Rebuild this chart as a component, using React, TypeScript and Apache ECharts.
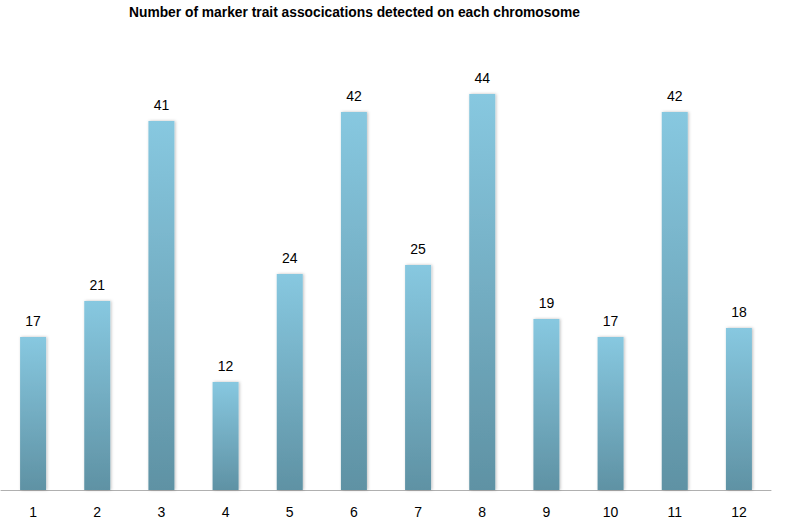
import React, { useEffect, useRef } from "react";
import * as echarts from "echarts";

const chromosomes = ["1", "2", "3", "4", "5", "6", "7", "8", "9", "10", "11", "12"];
const associations = [17, 21, 41, 12, 24, 42, 25, 44, 19, 17, 42, 18];
const chartTitle = "Number of marker trait assocications detected on each chromosome";

export default function App() {
  const ref = useRef<HTMLDivElement>(null);
  useEffect(() => {
    if (!ref.current) return;
    const chart = echarts.init(ref.current, null, { renderer: "svg" });
    chart.setOption({
      animation: false,
      title: {
        text: chartTitle,
        left: 124,
        top: 0,
        textStyle: {
          fontFamily: "Liberation Sans",
          fontWeight: "bold",
          fontSize: 13.8,
          color: "#000",
        },
      },
      grid: { left: 1, right: 22, top: 40, bottom: 39 },
      xAxis: {
        type: "category",
        data: chromosomes,
        axisLine: { lineStyle: { color: "#b0b0b0", width: 1 } },
        axisTick: { show: false },
        axisLabel: {
          color: "#000",
          fontSize: 14,
          fontFamily: "Liberation Sans",
          margin: 15,
        },
      },
      yAxis: {
        type: "value",
        min: 0,
        max: 50,
        show: false,
        splitLine: { show: false },
      },
      series: [
        {
          type: "bar",
          data: associations,
          barWidth: 26,
          itemStyle: {
            color: new echarts.graphic.LinearGradient(0, 0, 0, 1, [
              { offset: 0, color: "#87c8e0" },
              { offset: 1, color: "#5f92a4" },
            ]),
            shadowColor: "rgba(0,0,0,0.25)",
            shadowBlur: 3,
            shadowOffsetX: 1,
            shadowOffsetY: 0,
          },
          label: {
            show: true,
            position: "top",
            distance: 9,
            color: "#000",
            fontSize: 14,
            fontFamily: "Liberation Sans",
          },
        },
      ],
    });
    return () => chart.dispose();
  }, []);
  return (
    <div
      ref={ref}
      style={{ position: "absolute", left: 0, top: 0, width: 793, height: 529 }}
    />
  );
}
